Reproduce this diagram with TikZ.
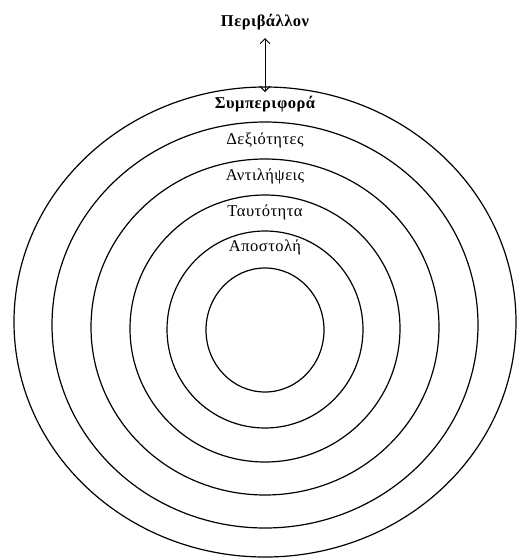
\documentclass[tikz,border=0pt]{standalone}
\usepackage{fontspec}
\setmainfont{Liberation Serif}[LetterSpace=3]
\usetikzlibrary{positioning, arrows.meta, shapes.geometric}
\tikzset{
    ring/.style={
        ellipse,
        draw=black,
        line width=1.2pt,
        inner sep=0pt,
        outer sep=0pt,
    },
    layer label/.style={
        font=\fontsize{16.5}{19}\selectfont,
        inner sep=1pt,
    },
    env arrow/.style={
        {Straight Barb[length=5pt,width=10pt]}-{Straight Barb[length=5pt,width=10pt]},
        line width=0.9pt,
    },
}
\begin{document}
\begin{tikzpicture}[x=1pt, y=-1pt]

\useasboundingbox (0,0) rectangle (523,558);

% ── RINGS (outer to inner) ─────────────────────────────────────────

\node[ring, minimum width=502pt, minimum height=470pt] (behaviour) at (265,322) {};
\node[ring, minimum width=426pt, minimum height=406pt] (skills) at (265,325) {};
\node[ring, minimum width=348pt, minimum height=336pt] (beliefs) at (265,327) {};
\node[ring, minimum width=270pt, minimum height=267pt] (identity) at (265,328.5) {};
\node[ring, minimum width=196pt, minimum height=197pt] (mission) at (265,329.5) {};
\node[ring, minimum width=118pt, minimum height=124pt] (core) at (265,330) {};

% ── LABELS ─────────────────────────────────────────────────────────

\node[layer label, font=\fontsize{16.5}{19}\selectfont\bfseries] (env) at (265,22) {Περιβάλλον};
\node[layer label, font=\fontsize{16.5}{19}\selectfont\bfseries] (behaviour-label) at (265,104) {Συμπεριφορά};
\node[layer label] (skills-label) at (265,140) {Δεξιότητες};
\node[layer label] (beliefs-label) at (265,176) {Αντιλήψεις};
\node[layer label] (identity-label) at (265,212) {Ταυτότητα};
\node[layer label] (mission-label) at (265,247) {Αποστολή};

% ── ENVIRONMENT LINK ───────────────────────────────────────────────

\draw[env arrow] ([yshift=-7pt]env.south) -- ([yshift=-5pt]behaviour.north);

\end{tikzpicture}
\end{document}
